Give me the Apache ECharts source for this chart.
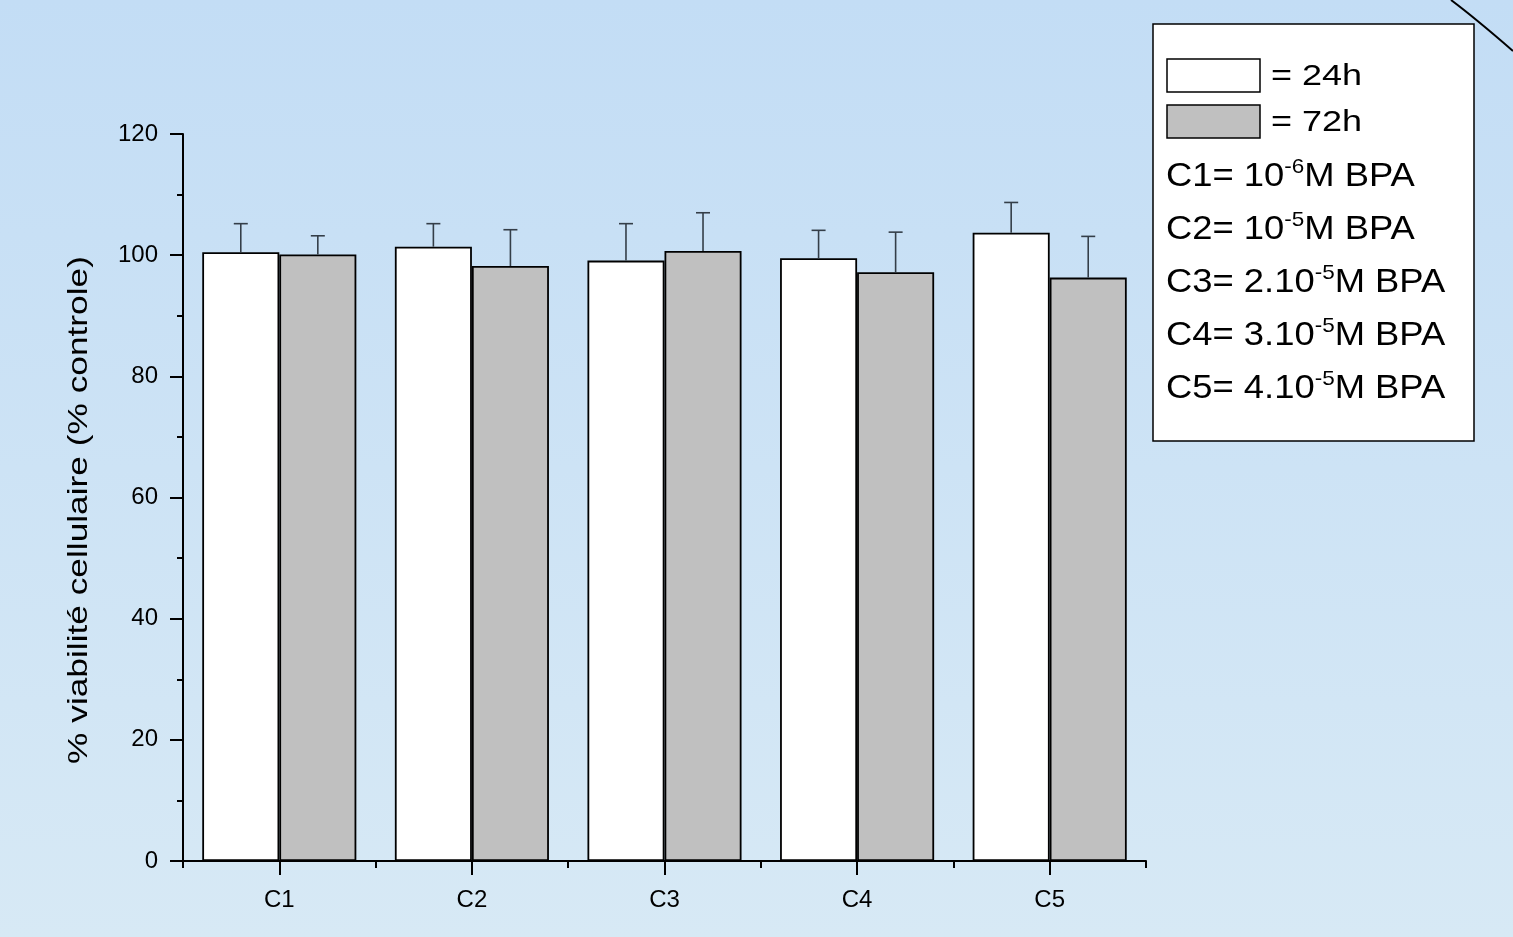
<!DOCTYPE html>
<html>
<head>
<meta charset="utf-8">
<title>Viabilité cellulaire – BPA</title>
<script src="https://cdn.jsdelivr.net/npm/echarts@6/dist/echarts.min.js"></script>
<style>
  html, body { margin: 0; padding: 0; width: 100%; height: 100%; overflow: hidden; }
  #chart { width: 1513px; height: 937px; }
</style>
</head>
<body>
<div id="chart"></div>
<script>
// Concentrations tested
const categories = ['C1', 'C2', 'C3', 'C4', 'C5'];
// Mean viability (% of control) and upper error (SD) after 24 h
const mean24 = [100.5, 101.4, 99.1, 99.5, 103.7];
const err24 = [4.7, 3.8, 6.1, 4.6, 5.0];
// Mean viability (% of control) and upper error (SD) after 72 h
const mean72 = [100.1, 98.2, 100.7, 97.2, 96.3];
const err72 = [3.1, 6.0, 6.3, 6.6, 6.8];
// Value axis ticks
const yTicks = [0, 20, 40, 60, 80, 100, 120];
// Legend lines: [prefix, exponent]
const doseLines = [
  ['C1= 10', '-6'],
  ['C2= 10', '-5'],
  ['C3= 2.10', '-5'],
  ['C4= 3.10', '-5'],
  ['C5= 4.10', '-5']
];
const seriesNames = ['24h', '72h'];

const FONT = '"Liberation Sans", Arial, Helvetica, sans-serif';
const chart = echarts.init(document.getElementById('chart'), null, { renderer: 'canvas' });

// Upper error bars, placed over the left (-1) or right (+1) bar of each group
function errorBar(side) {
  return function (params, api) {
    const idx = api.value(0);
    const m = api.value(1);
    const e = api.value(2);
    const band = api.size([1, 0])[0];
    const p0 = api.coord([idx, m]);
    const p1 = api.coord([idx, m + e]);
    const x = p0[0] + side * 0.2 * band;
    const style = { stroke: '#343e48', lineWidth: 1.6 };
    return {
      type: 'group',
      children: [
        { type: 'line', shape: { x1: x, y1: p0[1], x2: x, y2: p1[1] }, style: style },
        { type: 'line', shape: { x1: x - 7, y1: p1[1], x2: x + 7, y2: p1[1] }, style: style }
      ]
    };
  };
}

const legendChildren = [
  { type: 'rect', shape: { x: 0, y: 0, width: 321, height: 417 },
    style: { fill: '#ffffff', stroke: '#000', lineWidth: 1.5 } },
  { type: 'rect', shape: { x: 14, y: 35, width: 93, height: 33 },
    style: { fill: '#ffffff', stroke: '#000', lineWidth: 1.5 } },
  { type: 'rect', shape: { x: 14, y: 81, width: 93, height: 33 },
    style: { fill: '#c0c0c0', stroke: '#000', lineWidth: 1.5 } },
  { type: 'text', x: 118, y: 53, scaleX: 1.2,
    style: { text: '= ' + seriesNames[0], fontSize: 30, fontFamily: FONT, fill: '#000', verticalAlign: 'middle' } },
  { type: 'text', x: 118, y: 99, scaleX: 1.2,
    style: { text: '= ' + seriesNames[1], fontSize: 30, fontFamily: FONT, fill: '#000', verticalAlign: 'middle' } }
];
doseLines.forEach(function (d, i) {
  legendChildren.push({
    type: 'text', x: 13, y: 153 + i * 53, scaleX: 1.07,
    style: {
      text: '{n|' + d[0] + '}{s|' + d[1] + '}{n|M BPA}',
      verticalAlign: 'middle',
      fill: '#000',
      rich: {
        n: { fontSize: 34, lineHeight: 40, fontFamily: FONT, fill: '#000' },
        s: { fontSize: 21, lineHeight: 21, fontFamily: FONT, fill: '#000', verticalAlign: 'top' }
      }
    }
  });
});

const option = {
  backgroundColor: {
    type: 'linear', x: 0, y: 0, x2: 0, y2: 1,
    colorStops: [
      { offset: 0, color: '#c3ddf5' },
      { offset: 1, color: '#d7e9f5' }
    ]
  },
  animation: false,
  grid: { left: 183, top: 134, width: 963, height: 727, outerBoundsMode: 'none' },
  xAxis: [
    {
      type: 'category',
      data: categories,
      axisLine: { show: true, lineStyle: { color: '#000', width: 2 } },
      axisTick: { show: true, alignWithLabel: true, length: 14, lineStyle: { color: '#000', width: 2 } },
      axisLabel: { color: '#000', fontSize: 24, fontFamily: FONT, margin: 27 },
      splitLine: { show: false }
    },
    {
      // boundary ticks between groups
      type: 'category',
      data: categories,
      position: 'bottom',
      axisLine: { show: false },
      axisTick: { show: true, alignWithLabel: false, length: 7, lineStyle: { color: '#000', width: 2 } },
      axisLabel: { show: false },
      splitLine: { show: false }
    }
  ],
  yAxis: {
    type: 'value',
    min: yTicks[0],
    max: yTicks[yTicks.length - 1],
    interval: yTicks[1] - yTicks[0],
    axisLine: { show: true, lineStyle: { color: '#000', width: 2 } },
    axisTick: { show: true, length: 13, lineStyle: { color: '#000', width: 2 } },
    minorTick: { show: true, splitNumber: 2, length: 6, lineStyle: { color: '#000', width: 2 } },
    axisLabel: { color: '#000', fontSize: 24, fontFamily: FONT, margin: 25 },
    splitLine: { show: false }
  },
  series: [
    {
      name: seriesNames[0], type: 'bar', data: mean24,
      barGap: '0%', barCategoryGap: '20%',
      itemStyle: { color: '#ffffff', borderColor: '#000', borderWidth: 1.8 }
    },
    {
      name: seriesNames[1], type: 'bar', data: mean72,
      barGap: '0%', barCategoryGap: '20%',
      itemStyle: { color: '#c0c0c0', borderColor: '#000', borderWidth: 1.8 }
    },
    {
      type: 'custom', name: seriesNames[0] + ' SD', renderItem: errorBar(-1),
      data: mean24.map(function (m, i) { return [i, m, err24[i]]; }), z: 3
    },
    {
      type: 'custom', name: seriesNames[1] + ' SD', renderItem: errorBar(1),
      data: mean72.map(function (m, i) { return [i, m, err72[i]]; }), z: 3
    }
  ],
  graphic: [
    // axis title
    {
      type: 'text', x: 79, y: 510, rotation: Math.PI / 2, scaleX: 1.26,
      style: {
        text: '% viabilité cellulaire (% controle)',
        fontSize: 28, fontFamily: FONT, fill: '#000',
        align: 'center', verticalAlign: 'middle'
      }
    },
    // legend box
    { type: 'group', x: 1153, y: 24, children: legendChildren },
    // corner decoration
    {
      type: 'bezierCurve',
      shape: { x1: 1451, y1: 0, cpx1: 1475, cpy1: 18, x2: 1513, y2: 51 },
      style: { stroke: '#000', lineWidth: 2, fill: null }
    }
  ]
};

chart.setOption(option);
</script>
</body>
</html>
